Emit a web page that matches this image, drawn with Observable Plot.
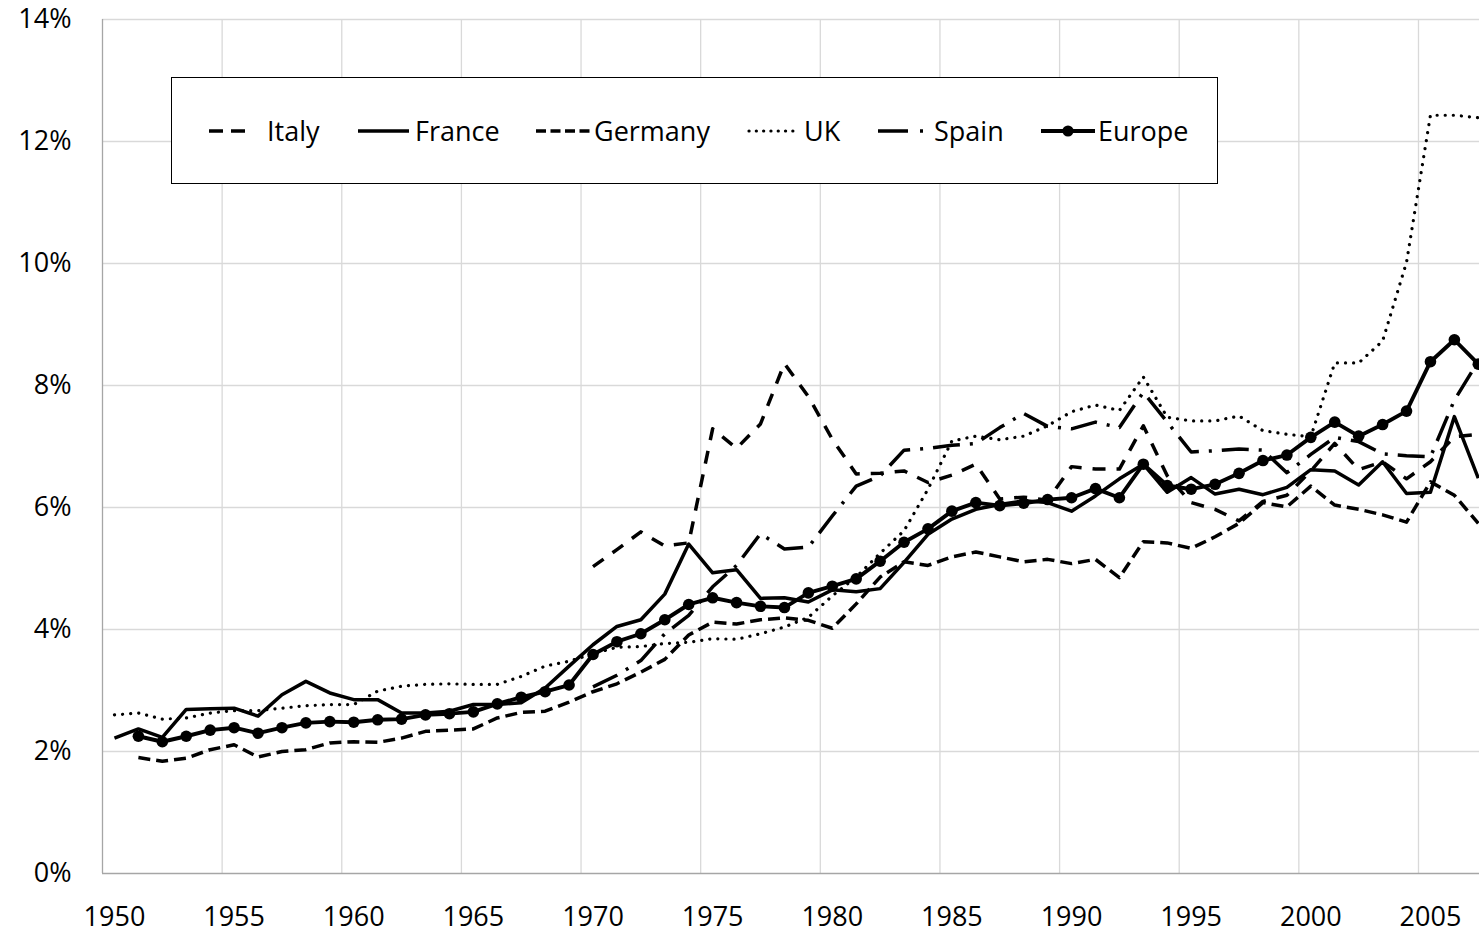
<!DOCTYPE html>
<html><head><meta charset="utf-8">
<script src="https://cdn.jsdelivr.net/npm/d3@7"></script>
<script src="https://cdn.jsdelivr.net/npm/@observablehq/plot@0.6"></script>
<style>
body{margin:0;background:#fff;font-family:"Open Sans",sans-serif;}
#wrap{position:relative;width:1479px;height:933px;overflow:hidden;}
#legend{position:absolute;left:171px;top:77px;width:1045px;height:105px;border:1.5px solid #000;background:#fff;}
.item{position:absolute;top:0;height:105px;display:flex;align-items:center;font-size:27px;color:#000;white-space:nowrap;}
.item svg{display:block;}
</style></head>
<body><div id="wrap"><div id="chart"></div><div id="legend"></div></div>
<script>
// ---- data (share of GDP, %) ----
const years = [1950,1951,1952,1953,1954,1955,1956,1957,1958,1959,1960,1961,1962,1963,1964,1965,1966,1967,1968,1969,
  1970,1971,1972,1973,1974,1975,1976,1977,1978,1979,1980,1981,1982,1983,1984,1985,1986,1987,1988,1989,
  1990,1991,1992,1993,1994,1995,1996,1997,1998,1999,2000,2001,2002,2003,2004,2005,2006,2007];
const xTickYears = [1950,1955,1960,1965,1970,1975,1980,1985,1990,1995,2000,2005];
const yTicks = [0,2,4,6,8,10,12,14];
const seriesNames = ["Italy","France","Germany","UK","Spain","Europe"];

const italy = [null,null,null,null,null,null,null,null,null,null,null,null,null,null,null,null,null,null,null,null,
  5.03,5.31,5.60,5.37,5.42,7.29,6.97,7.37,8.36,7.82,7.12,6.55,6.56,6.60,6.41,6.53,6.71,6.14,6.17,6.12,
  6.67,6.63,6.63,7.34,6.52,6.08,5.97,5.78,6.10,6.20,6.60,7.05,6.62,6.75,6.47,6.75,7.16,7.20];
const france = [2.22,2.37,2.23,2.69,2.70,2.71,2.58,2.93,3.15,2.96,2.85,2.85,2.63,2.63,2.66,2.77,2.77,2.80,3.04,3.40,
  3.75,4.05,4.16,4.58,5.40,4.93,4.98,4.51,4.52,4.45,4.65,4.62,4.67,5.10,5.56,5.81,5.97,6.05,6.11,6.08,
  5.94,6.19,6.47,6.71,6.25,6.49,6.22,6.30,6.21,6.33,6.62,6.60,6.37,6.75,6.23,6.25,7.49,6.48];
const germany = [null,1.90,1.84,1.89,2.03,2.11,1.91,2.00,2.03,2.14,2.16,2.15,2.22,2.33,2.35,2.37,2.55,2.64,2.66,2.81,
  2.98,3.11,3.30,3.51,3.91,4.12,4.09,4.16,4.19,4.15,4.02,4.42,4.86,5.11,5.05,5.19,5.27,5.19,5.11,5.15,
  5.08,5.15,4.85,5.44,5.42,5.33,5.52,5.74,6.08,6.01,6.35,6.04,5.97,5.88,5.76,6.42,6.20,5.74];
const uk = [2.60,2.63,2.53,2.55,2.63,2.67,2.67,2.71,2.75,2.77,2.77,2.99,3.07,3.10,3.11,3.10,3.10,3.23,3.40,3.48,
  3.60,3.71,3.72,3.77,3.79,3.85,3.84,3.93,4.04,4.20,4.55,4.86,5.25,5.62,6.30,7.09,7.17,7.11,7.17,7.34,
  7.57,7.68,7.59,8.14,7.48,7.42,7.42,7.50,7.26,7.20,7.16,8.37,8.37,8.73,10.02,12.43,12.43,12.39];
const spain = [null,null,null,null,null,null,null,null,null,null,null,null,null,null,null,null,null,null,null,null,
  3.06,3.25,3.49,3.93,4.23,4.70,5.05,5.57,5.32,5.35,5.86,6.35,6.52,6.94,6.97,7.02,7.05,7.31,7.54,7.33,
  7.29,7.40,7.31,7.89,7.40,6.91,6.93,6.96,6.94,6.57,6.87,7.15,7.08,6.88,6.85,6.83,7.76,8.40];
const europe = [null,2.25,2.16,2.25,2.35,2.39,2.30,2.39,2.47,2.49,2.48,2.52,2.53,2.60,2.62,2.65,2.78,2.89,2.98,3.09,
  3.59,3.80,3.93,4.16,4.41,4.52,4.44,4.38,4.36,4.60,4.71,4.83,5.12,5.43,5.65,5.94,6.08,6.03,6.07,6.13,
  6.16,6.31,6.16,6.71,6.36,6.30,6.38,6.56,6.77,6.86,7.15,7.40,7.17,7.36,7.58,8.39,8.75,8.35];

// ---- styles (not data) ----
const styles = {
  Italy:   {strokeWidth: 3.5, dash: "13,11", cap: "butt", legendDash: "14,8"},
  France:  {strokeWidth: 3.5, dash: null,    cap: "butt"},
  Germany: {strokeWidth: 3.5, dash: "12,6",  cap: "butt", legendDash: "10,4.5"},
  UK:      {strokeWidth: 3.2, dash: "0.1,8", cap: "round", legendDash: "0.1,7.2"},
  Spain:   {strokeWidth: 3.5, dash: "27,10,3,10", cap: "butt", legendDash: "0,19,30,12,3,20"},
  Europe:  {strokeWidth: 3.9, dash: null,    cap: "butt"}
};
const valuesByName = {Italy: italy, France: france, Germany: germany, UK: uk, Spain: spain, Europe: europe};

const table = [];
for (const name of seriesNames) {
  valuesByName[name].forEach((v, i) => table.push({name, year: years[i], value: v}));
}
// points are centred in each year's category
const xPos = d => d.year + 0.5;

const lineMarks = seriesNames.map(name => {
  const s = styles[name];
  return Plot.line(table.filter(d => d.name === name && d.value != null), {
    x: xPos, y: "value", stroke: "#000", strokeWidth: s.strokeWidth,
    strokeDasharray: s.dash || undefined, strokeLinecap: s.cap, strokeLinejoin: "round"
  });
});

const chart = Plot.plot({
  width: 1479, height: 933,
  marginLeft: 102, marginRight: 0, marginTop: 19, marginBottom: 60,
  style: {fontFamily: '"Open Sans", sans-serif', fontSize: "27px", color: "#000", background: "#fff"},
  x: {domain: [1950, 2007.55], axis: null},
  y: {domain: [0, 14], axis: null},
  marks: [
    Plot.gridY(yTicks.filter(t => t > 0), {stroke: "#d9d9d9", strokeOpacity: 1, strokeWidth: 1.3}),
    Plot.gridX(xTickYears.filter(t => t > 1950), {stroke: "#d9d9d9", strokeOpacity: 1, strokeWidth: 1.3}),
    Plot.ruleX([1950], {stroke: "#a6a6a6", strokeWidth: 1.3}),
    Plot.ruleY([0], {stroke: "#a6a6a6", strokeWidth: 1.3}),
    Plot.axisY(yTicks, {tickSize: 0, tickPadding: 31, tickFormat: d => d + "%", fontSize: 27, label: null}),
    Plot.axisX(xTickYears.map(y => y + 0.5), {tickSize: 0, tickPadding: 33, tickFormat: d => String(Math.floor(d)), fontSize: 27, label: null}),
    ...lineMarks,
    Plot.dot(table.filter(d => d.name === "Europe" && d.value != null), {x: xPos, y: "value", r: 5.8, fill: "#000", stroke: "none"})
  ]
});
document.getElementById("chart").appendChild(chart);

// ---- legend (HTML overlay, inside plot area as in the original) ----
const legendLayout = {
  Italy:   {left: 37,  sample: 41, gap: 17},
  France:  {left: 186, sample: 51, gap: 6},
  Germany: {left: 364, sample: 54, gap: 4},
  UK:      {left: 575, sample: 51, gap: 6},
  Spain:   {left: 687, sample: 66, gap: 9},
  Europe:  {left: 869, sample: 54, gap: 3}
};
const legend = document.getElementById("legend");
for (const name of seriesNames) {
  const L = legendLayout[name], s = styles[name];
  const item = document.createElement("div");
  item.className = "item";
  item.style.left = L.left + "px";
  const svg = d3.create("svg").attr("width", L.sample).attr("height", 20).style("margin-right", L.gap + "px");
  const ln = svg.append("line").attr("x1", name === "UK" ? 2 : 0).attr("x2", L.sample).attr("y1", 10).attr("y2", 10)
    .attr("stroke", "#000").attr("stroke-width", s.strokeWidth).attr("stroke-linecap", s.cap);
  if (s.dash) ln.attr("stroke-dasharray", s.legendDash || s.dash);
  if (name === "Europe") svg.append("circle").attr("cx", L.sample / 2).attr("cy", 10).attr("r", 5.6).attr("fill", "#000");
  item.appendChild(svg.node());
  const t = document.createElement("span");
  t.textContent = name;
  item.appendChild(t);
  legend.appendChild(item);
}
</script>
</body></html>
